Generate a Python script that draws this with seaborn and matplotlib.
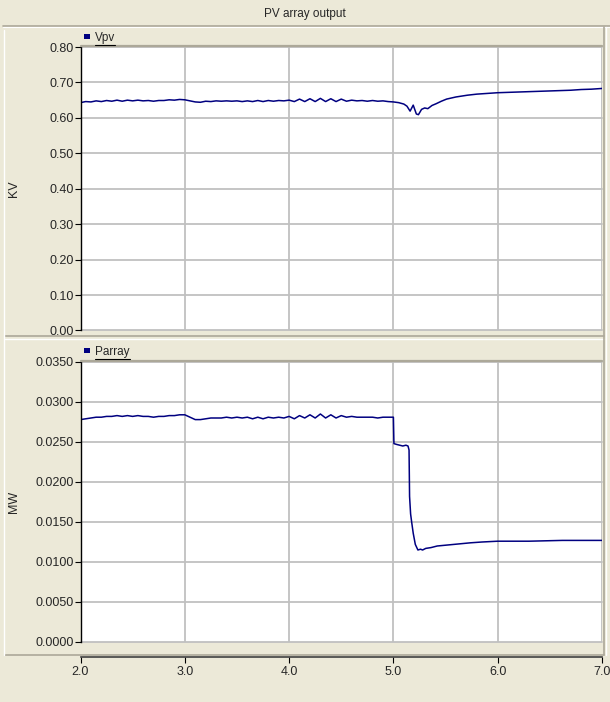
import numpy as np
import seaborn as sns
import matplotlib.pyplot as plt
import pandas as pd
from matplotlib.patches import Rectangle
from matplotlib.lines import Line2D

# regular 0.05 s sampling of the steady part (2.0 - 5.0 s)
t_flat = np.round(np.arange(2.0, 5.0001, 0.05), 2)

vpv_flat = [0.643, 0.646, 0.645, 0.648, 0.646, 0.649, 0.647, 0.650, 0.647, 0.650,
            0.648, 0.650, 0.648, 0.649, 0.647, 0.649, 0.649, 0.651, 0.650, 0.652,
            0.651, 0.648, 0.645, 0.644, 0.647, 0.646, 0.648, 0.647, 0.648, 0.647,
            0.648, 0.646, 0.648, 0.646, 0.649, 0.646, 0.649, 0.647, 0.649, 0.648,
            0.650, 0.646, 0.653, 0.646, 0.654, 0.646, 0.655, 0.646, 0.654, 0.646,
            0.653, 0.647, 0.650, 0.648, 0.649, 0.647, 0.649, 0.647, 0.648, 0.646,
            0.645]
vpv_tail_t = [5.05, 5.10, 5.13, 5.16, 5.19, 5.22, 5.24, 5.27, 5.30, 5.33, 5.37,
              5.41, 5.46, 5.51, 5.60, 5.71, 5.80, 5.90, 6.00, 6.10, 6.20, 6.30,
              6.40, 6.50, 6.60, 6.70, 6.80, 6.90, 7.00]
vpv_tail = [0.643, 0.639, 0.633, 0.619, 0.636, 0.611, 0.609, 0.624, 0.628, 0.626, 0.635,
            0.640, 0.647, 0.653, 0.659, 0.664, 0.667, 0.669, 0.671, 0.672, 0.673, 0.674,
            0.675, 0.676, 0.677, 0.678, 0.680, 0.681, 0.683]

parray_flat = [0.0278, 0.0279, 0.0280, 0.0281, 0.0281, 0.0282, 0.0282, 0.0283, 0.0282, 0.0283,
               0.0282, 0.0283, 0.0282, 0.0282, 0.0281, 0.0282, 0.0282, 0.0283, 0.0283, 0.0284,
               0.0284, 0.0281, 0.0278, 0.0278, 0.0279, 0.0280, 0.0280, 0.0280, 0.0281, 0.0280,
               0.0281, 0.0280, 0.0281, 0.0279, 0.0281, 0.0279, 0.0281, 0.0280, 0.0281, 0.0280,
               0.0282, 0.0279, 0.0283, 0.0280, 0.0284, 0.0280, 0.0285, 0.0280, 0.0284, 0.0280,
               0.0283, 0.0281, 0.0282, 0.0281, 0.0281, 0.0281, 0.0281, 0.0280, 0.0281, 0.0281,
               0.0281]
parray_tail_t = [5.005, 5.03, 5.06, 5.09, 5.12, 5.14, 5.15, 5.155, 5.165, 5.175, 5.19,
                 5.21, 5.235, 5.26, 5.28, 5.31, 5.36, 5.42, 5.50, 5.58, 5.66, 5.74,
                 5.85, 6.00, 6.30, 6.62, 7.00]
parray_tail = [0.0248, 0.0247, 0.0246, 0.0245, 0.0246, 0.0245, 0.0240, 0.0182, 0.0160, 0.0150,
               0.0136, 0.0122, 0.0115, 0.0116, 0.0115, 0.0117, 0.0118, 0.0120, 0.0121, 0.0122,
               0.0123, 0.0124, 0.0125, 0.0126, 0.0126, 0.0127, 0.0127]

vpv_df = pd.DataFrame({'t': list(t_flat) + vpv_tail_t, 'v': vpv_flat + vpv_tail})
par_df = pd.DataFrame({'t': list(t_flat) + parray_tail_t, 'v': parray_flat + parray_tail})

x_ticks = [2.0, 3.0, 4.0, 5.0, 6.0, 7.0]
vpv_ticks = [0.0, 0.1, 0.2, 0.3, 0.4, 0.5, 0.6, 0.7, 0.8]
par_ticks = [0.0, 0.005, 0.01, 0.015, 0.02, 0.025, 0.03, 0.035]

sns.set_style('white')
plt.rcParams['font.family'] = ['Liberation Sans', 'DejaVu Sans']

BG = '#ECE9D8'
EDGE = '#ACA899'
LINE = '#000080'
W, H = 610, 702

fig = plt.figure(figsize=(W / 100, H / 100), dpi=100, facecolor=BG)


def fx(px):
    return px / W


def fy(py):
    return 1 - py / H


def hline(y, x0, x1, color, lw=1.0):
    fig.add_artist(Line2D([fx(x0), fx(x1)], [fy(y), fy(y)], color=color, lw=lw))


def vline(x, y0, y1, color, lw=1.0):
    fig.add_artist(Line2D([fx(x), fx(x)], [fy(y0), fy(y1)], color=color, lw=lw))


# title bar
fig.text(0.5, fy(14), 'PV array output', ha='center', va='center', fontsize=8.5)
hline(26, 3, 610, EDGE, 1.2)
hline(27, 3, 610, 'white', 0.8)

# panel borders
hline(336, 5, 604, EDGE, 1.2)
hline(339, 5, 604, 'white', 1.0)
hline(655, 5, 604, EDGE, 1.2)
vline(604, 27, 655, EDGE, 1.2)
vline(606, 27, 655, 'white', 1.0)
vline(4, 30, 655, 'white', 1.0)

L, R = 80.5, 602
ax1 = fig.add_axes([fx(L), fy(330.5), (R - L) / W, (330.5 - 47) / H])
ax2 = fig.add_axes([fx(L), fy(642), (R - L) / W, (642 - 362) / H])

sns.lineplot(data=vpv_df, x='t', y='v', ax=ax1, color=LINE, lw=1.1,
             estimator=None, sort=False)
sns.lineplot(data=par_df, x='t', y='v', ax=ax2, color=LINE, lw=1.1,
             estimator=None, sort=False)

for ax, ticks, fmt, lim, lab in [(ax1, vpv_ticks, '{:.2f}', (0, 0.8), 'KV'),
                                  (ax2, par_ticks, '{:.4f}', (0, 0.035), 'MW')]:
    ax.set_facecolor('white')
    ax.set_xlim(2.0, 7.0)
    ax.set_ylim(*lim)
    ax.set_xticks(x_ticks)
    ax.set_yticks(ticks)
    ax.set_yticklabels([fmt.format(v) for v in ticks], fontsize=9)
    ax.grid(True, color='#C0C0C0', lw=1.3)
    ax.set_axisbelow(True)
    for gl in ax.get_ygridlines():
        gl.set_clip_on(False)
    for s in ['top', 'right', 'bottom']:
        ax.spines[s].set_visible(False)
    ax.spines['left'].set_color('black')
    ax.spines['left'].set_linewidth(1.0)
    ax.tick_params(axis='y', left=True, direction='out', length=4, width=0.8,
                   color='black', pad=1)
    ax.set_ylabel(lab, fontsize=9)
    ax.set_xlabel('')

ax1.yaxis.set_label_coords(-60 / (R - L), 0.5)
ax2.yaxis.set_label_coords(-60 / (R - L), 0.5)
ax1.tick_params(axis='x', bottom=False, length=0, labelbottom=False)

# x axis below the lower panel
ax2.spines['bottom'].set_visible(True)
ax2.spines['bottom'].set_position(('outward', 11))
ax2.spines['bottom'].set_color('#404040')
ax2.spines['bottom'].set_linewidth(1.2)
ax2.set_xticklabels(['{:.1f}'.format(v) for v in x_ticks], fontsize=9)
ax2.tick_params(axis='x', bottom=True, direction='out', length=4, width=0.8,
                color='black', pad=2)

# legend strips
for top, bot, name in [(30, 46, 'Vpv'), (343, 361, 'Parray')]:
    fig.add_artist(Rectangle((fx(L), fy(bot)), (R - L) / W, (bot - top) / H,
                             transform=fig.transFigure, facecolor=BG, edgecolor='none'))
    hline(bot, L, R, EDGE, 1.6)
    mid = (top + bot) / 2 - 1
    fig.add_artist(Rectangle((fx(84), fy(mid + 2)), 6 / W, 5 / H,
                             transform=fig.transFigure, facecolor=LINE, edgecolor='none'))
    t = fig.text(fx(95), fy(mid + 1), name, ha='left', va='center', fontsize=8.5)
    fig.canvas.draw()
    bb = t.get_window_extent()
    fig.add_artist(Line2D([bb.x0 / W, bb.x1 / W], [(bb.y0 - 1) / H, (bb.y0 - 1) / H],
                          color='black', lw=0.8))

fig.savefig('out.png', dpi=100, facecolor=BG)
